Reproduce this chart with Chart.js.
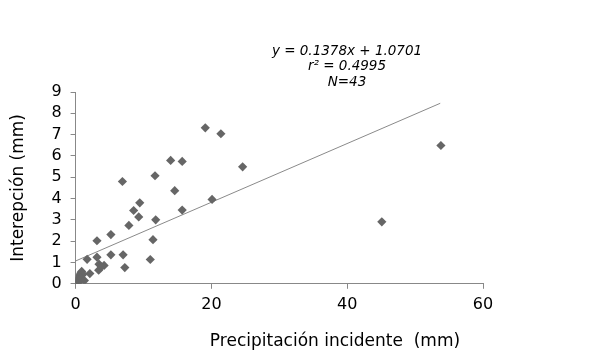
<!DOCTYPE html>
<html>
<head>
<meta charset="utf-8">
<script src="https://cdn.jsdelivr.net/npm/chart.js@4.4.0/dist/chart.umd.min.js"></script>
<style>
html,body{margin:0;padding:0;background:#fff;}
#wrap{position:relative;width:601px;height:361px;}
</style>
</head>
<body>
<div id="wrap"><canvas id="c" width="601" height="361"></canvas></div>
<script>
// Data
const precipX = [
  19.1, 21.4, 24.6, 14.0, 15.7, 11.7, 6.9, 14.6, 20.1, 9.45,
  8.55, 15.7, 9.3, 11.8, 7.85, 5.2, 3.15, 11.4, 5.2, 7.0,
  11.0, 3.15, 1.7, 7.25, 2.1, 3.45, 4.2, 3.4, 3.8, 53.8,
  45.1, 0.1, 0.2, 0.35, 0.5, 0.6, 0.75, 0.9, 1.1, 0.45,
  0.8, 1.3, 0.3
];
const interY = [
  7.32, 7.04, 5.49, 5.79, 5.74, 5.07, 4.80, 4.37, 3.96, 3.80,
  3.44, 3.46, 3.14, 3.00, 2.74, 2.31, 2.02, 2.07, 1.36, 1.36,
  1.14, 1.25, 1.15, 0.76, 0.48, 0.92, 0.86, 0.64, 0.80, 6.49,
  2.91, 0.05, 0.12, 0.22, 0.30, 0.40, 0.50, 0.58, 0.45, 0.10,
  0.25, 0.15, 0.02
];
const trendX = [0, 53.7];
const trendY = [1.07, 8.47];
const xTicks = [0, 20, 40, 60];
const yTicks = [0, 1, 2, 3, 4, 5, 6, 7, 8, 9];
const equationLines = ['y = 0.1378x + 1.0701', 'r² = 0.4995', 'N=43'];
const xTitle = 'Precipitación incidente  (mm)';
const yTitle = 'Interepción (mm)';

const points = precipX.map((x, i) => ({x: x, y: interY[i]}));
const trend = trendX.map((x, i) => ({x: x, y: trendY[i]}));

const FONT = '"DejaVu Sans"';

const textPlugin = {
  id: 'texts',
  afterDraw(chart) {
    const ctx = chart.ctx;
    ctx.save();
    ctx.fillStyle = '#000';
    ctx.textAlign = 'center';
    ctx.textBaseline = 'middle';
    ctx.font = 'italic 13.5px ' + FONT;
    equationLines.forEach((t, i) => ctx.fillText(t, 347, 51 + i * 15.5));
    ctx.font = '17px ' + FONT;
    ctx.fillText(xTitle, 335, 342);
    ctx.restore();
  }
};

new Chart(document.getElementById('c'), {
  type: 'scatter',
  data: {
    datasets: [
      {
        label: 'trend',
        type: 'line',
        data: trend,
        borderColor: '#8a8a8a',
        borderWidth: 1,
        pointRadius: 0,
        fill: false,
        order: 2
      },
      {
        label: 'data',
        data: points,
        pointStyle: 'rectRot',
        pointRadius: 4.6,
        backgroundColor: '#666666',
        borderColor: '#666666',
        borderWidth: 0,
        order: 1
      }
    ]
  },
  options: {
    responsive: false,
    animation: false,
    devicePixelRatio: 1,
    layout: {padding: {left: 8, right: 118, top: 92, bottom: 41}},
    plugins: {
      legend: {display: false},
      tooltip: {enabled: false}
    },
    scales: {
      x: {
        type: 'linear',
        min: 0, max: 60,
        afterBuildTicks(scale) { scale.ticks = xTicks.map(v => ({value: v})); },
        grid: {display: true, drawOnChartArea: false, drawTicks: true, tickLength: 5, color: '#888'},
        border: {display: true, color: '#888', width: 1},
        ticks: {color: '#000', font: {family: FONT, size: 16}, padding: 6, maxRotation: 0, autoSkip: false},
        title: {display: false}
      },
      y: {
        type: 'linear',
        min: 0, max: 9,
        afterBuildTicks(scale) { scale.ticks = yTicks.map(v => ({value: v})); },
        grid: {display: true, drawOnChartArea: false, drawTicks: true, tickLength: 5, color: '#888'},
        border: {display: true, color: '#888', width: 1},
        ticks: {color: '#000', font: {family: FONT, size: 16}, padding: 9, autoSkip: false},
        title: {display: true, text: yTitle, color: '#000', font: {family: FONT, size: 17}, padding: {top: 0, bottom: 14}}
      }
    }
  },
  plugins: [textPlugin]
});
</script>
</body>
</html>
